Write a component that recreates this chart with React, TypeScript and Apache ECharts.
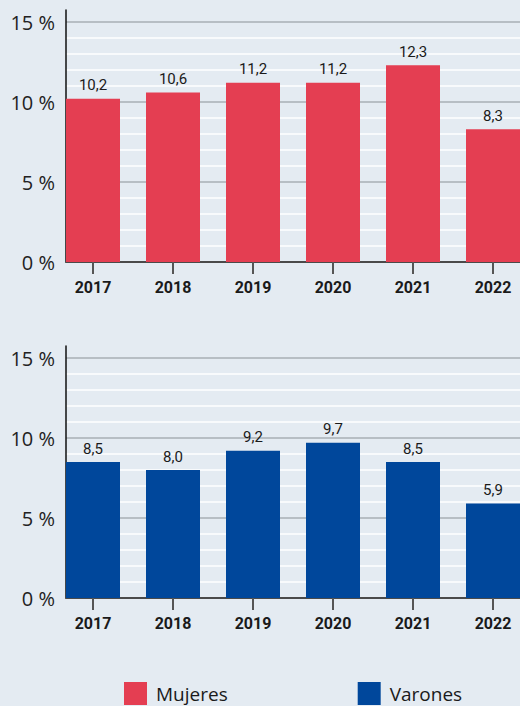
import React, { useEffect, useRef } from 'react';
import * as echarts from 'echarts';

const years = ['2017', '2018', '2019', '2020', '2021', '2022'];
const mujeres = [10.2, 10.6, 11.2, 11.2, 12.3, 8.3];
const varones = [8.5, 8.0, 9.2, 9.7, 8.5, 5.9];
const yTickValues = [0, 5, 10, 15];
const seriesNames = ['Mujeres', 'Varones'];

export default function App() {
  const ref = useRef<HTMLDivElement>(null);
  useEffect(() => {
    const chart = echarts.init(ref.current as HTMLDivElement, null, { renderer: 'svg' });
    const font = "'Open Sans', 'Noto Sans', sans-serif";
    const cond = "'Roboto', sans-serif";
    const idx = years.map((_, i) => i);
    const xAxisFor = (g: number) => ({
      type: 'value',
      gridIndex: g,
      min: -0.3375,
      max: 5.3375,
      axisLine: { show: true, onZero: false, lineStyle: { color: '#4a4a4a', width: 2 } },
      axisTick: { show: true, customValues: idx, length: 12, lineStyle: { color: '#555', width: 2 } },
      axisLabel: {
        customValues: idx,
        formatter: (v: number) => years[Math.round(v)],
        fontFamily: cond,
        fontWeight: 'bold',
        fontSize: 16,
        color: '#1a1a1a',
        margin: 17,
      },
      splitLine: { show: false },
    });
    const yAxisFor = (g: number) => ({
      type: 'value',
      gridIndex: g,
      min: 0,
      max: 15.75,
      interval: 1,
      axisLine: { show: true, onZero: false, lineStyle: { color: '#111', width: 1.5 } },
      axisTick: { show: false },
      axisLabel: {
        customValues: yTickValues,
        formatter: (v: number) => `${v} %`,
        fontFamily: font,
        fontSize: 20,
        color: '#222',
        margin: 11,
      },
      splitLine: {
        show: true,
        showMaxLine: false,
        lineStyle: { color: ['#a9afb5', '#ffffff', '#ffffff', '#ffffff', '#ffffff'], width: 1.5 },
      },
    });
    const labelFor = {
      show: true,
      position: 'top',
      distance: 6,
      formatter: (p: any) => Number(p.value[1]).toFixed(1).replace('.', ','),
      fontFamily: cond,
      fontSize: 15,
      color: '#1a1a1a',
    };
    chart.setOption({
      animation: false,
      backgroundColor: '#e4ebf2',
      grid: [
        { left: 66, right: 0, top: 10, height: 252 },
        { left: 66, right: 0, top: 346, height: 252 },
      ],
      xAxis: [xAxisFor(0), xAxisFor(1)],
      yAxis: [yAxisFor(0), yAxisFor(1)],
      legend: {
        data: seriesNames,
        left: 124,
        top: 682,
        padding: 0,
        icon: 'rect',
        itemWidth: 23,
        itemHeight: 23,
        itemGap: 130,
        textStyle: { fontFamily: font, fontSize: 19, color: '#1a1a1a', padding: [0, 0, 0, 4] },
      },
      series: [
        {
          type: 'bar',
          name: seriesNames[0],
          xAxisIndex: 0,
          yAxisIndex: 0,
          barWidth: 54,
          data: mujeres.map((v, i) => [i, v]),
          itemStyle: { color: '#e43e52' },
          label: labelFor,
        },
        {
          type: 'bar',
          name: seriesNames[1],
          xAxisIndex: 1,
          yAxisIndex: 1,
          barWidth: 54,
          data: varones.map((v, i) => [i, v]),
          itemStyle: { color: '#00479b' },
          label: labelFor,
        },
      ],
    });
    return () => chart.dispose();
  }, []);
  return <div ref={ref} style={{ position: 'fixed', left: 0, top: 0, width: 520, height: 706 }} />;
}
